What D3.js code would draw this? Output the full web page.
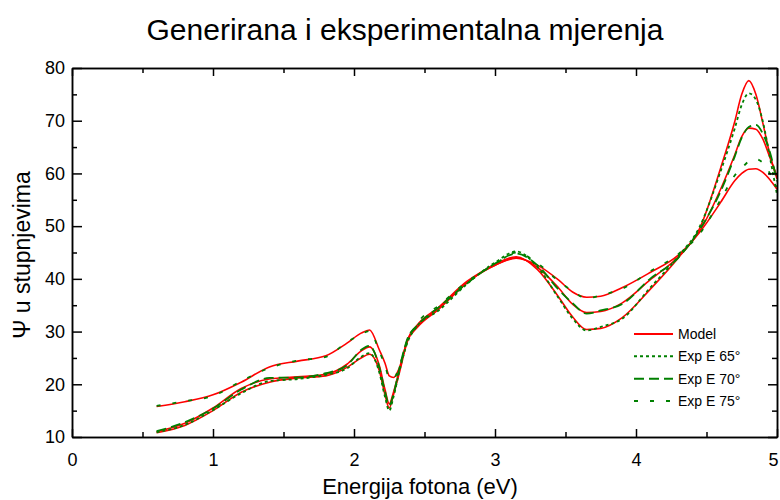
<!DOCTYPE html>
<html>
<head>
<meta charset="utf-8">
<script src="https://cdn.jsdelivr.net/npm/d3@7/dist/d3.min.js"></script>
<style>
    body { margin: 0; background: #fff; }
    svg { font-family: "Liberation Sans", Arial, sans-serif; }
    .axis path, .axis line { stroke: #000; stroke-width: 1.5; }
    .axis text { font-size: 18px; fill: #000; }
</style>
</head>
<body>
<svg id="chart" width="780" height="500"></svg>
<script>
// energy grid (eV) shared by all curves
var energy = [0.6, 0.8, 1.0, 1.2, 1.4, 1.6, 1.8, 1.95, 2.05, 2.11, 2.18, 2.22, 2.25, 2.28, 2.32, 2.38, 2.45,
    2.6, 2.8, 3.0, 3.15, 3.3, 3.45, 3.55, 3.65, 3.75, 3.9, 4.1, 4.3, 4.45, 4.6, 4.7, 4.75, 4.8, 4.85, 4.9, 4.95, 5.0];

// model curves (red)
var modelA = [15.8, 16.7, 18.0, 20.4, 23.3, 24.4, 25.4, 27.8, 29.7, 30.3, 26.5, 24.0, 21.6, 21.3, 23.0, 28.5, 31.3,
    34.6, 39.5, 42.6, 43.9, 42.6, 39.8, 37.5, 36.5, 36.7, 38.3, 41.2, 44.5, 48.8, 54.5, 58.6, 60.0, 60.8, 60.9, 60.2, 58.8, 57.0];
var modelB = [11.0, 12.6, 15.5, 19.2, 21.0, 21.4, 21.9, 23.8, 26.3, 27.1, 23.5, 19.0, 16.3, 18.5, 22.5, 28.5, 31.0,
    34.4, 39.3, 42.6, 44.0, 42.2, 38.3, 35.2, 33.6, 33.8, 35.4, 39.8, 44.2, 49.0, 57.0, 63.5, 67.0, 68.6, 68.4, 66.5, 63.0, 59.5];
var modelC = [10.8, 12.2, 15.0, 18.5, 20.4, 21.2, 21.6, 23.2, 25.0, 25.7, 22.5, 18.0, 15.5, 18.0, 22.0, 28.2, 30.8,
    34.2, 39.2, 42.8, 44.2, 41.8, 36.6, 32.8, 30.4, 30.6, 32.6, 38.0, 44.0, 49.5, 61.0, 69.8, 75.0, 77.6, 75.0, 69.5, 63.5, 59.0];

// measured curves (green)
var exp65 = [10.9, 12.3, 15.1, 18.3, 20.6, 21.0, 21.8, 23.0, 25.2, 25.9, 22.2, 17.6, 15.0, 17.6, 22.3, 28.0, 31.1,
    34.0, 39.0, 43.1, 45.2, 42.3, 36.4, 32.5, 30.2, 30.9, 32.4, 38.3, 44.3, 49.8, 60.4, 68.5, 73.0, 75.2, 74.0, 69.8, 63.0, 56.0];
var exp70 = [11.1, 12.8, 15.4, 19.0, 21.2, 21.3, 22.1, 23.6, 26.5, 27.3, 23.2, 18.6, 16.0, 18.1, 22.8, 28.7, 31.2,
    34.6, 39.1, 42.9, 44.8, 42.6, 38.0, 35.4, 33.4, 34.0, 35.2, 40.0, 44.0, 49.3, 56.6, 63.2, 66.8, 68.8, 69.2, 67.5, 64.0, 58.5];
var exp75 = [15.9, 16.8, 17.8, 20.6, 23.1, 24.5, 25.2, 28.0, 29.5, 30.1, 26.2, 23.6, 21.2, 21.0, 23.3, 28.2, 31.6,
    34.9, 39.4, 42.8, 45.0, 43.0, 39.6, 37.7, 36.3, 36.9, 38.1, 41.4, 44.7, 48.5, 55.0, 59.6, 61.0, 62.3, 62.7, 62.0, 60.0, 57.5];

var xTicks = [0, 1, 2, 3, 4, 5],
    xMinor = [0.5, 1.5, 2.5, 3.5, 4.5],
    yTicks = [10, 20, 30, 40, 50, 60, 70, 80],
    yMinor = [15, 25, 35, 45, 55, 65, 75];

var legendItems = ["Model", "Exp E 65°", "Exp E 70°", "Exp E 75°"];

var svg = d3.select("#chart");

var pLeft = 72, pRight = 777, pTop = 68, pBottom = 437;

var x = d3.scaleLinear().domain([0, 5]).range([pLeft, pRight]);
var y = d3.scaleLinear().domain([10, 80]).range([pBottom, pTop]);

var line = d3.line()
    .x(function(d) { return x(d[0]); })
    .y(function(d) { return y(d[1]); })
    .curve(d3.curveMonotoneX);

function pairs(vals) {
    return energy.map(function(e, i) { return [e, vals[i]]; });
}

// title
svg.append("text")
    .attr("x", 405)
    .attr("y", 40)
    .attr("text-anchor", "middle")
    .style("font-size", "30px")
    .text("Generirana i eksperimentalna mjerenja");

// model lines first, measurements drawn over them
var g = svg.append("g");

[modelA, modelB, modelC].forEach(function(m) {
    g.append("path")
        .attr("d", line(pairs(m)))
        .attr("fill", "none")
        .attr("stroke", "#ff0000")
        .attr("stroke-width", 1.6);
});

var expSeries = [
    {vals: exp65, dash: "3,3"},
    {vals: exp70, dash: "10,5"},
    {vals: exp75, dash: "4,12"}
];

expSeries.forEach(function(s) {
    g.append("path")
        .attr("d", line(pairs(s.vals)))
        .attr("fill", "none")
        .attr("stroke", "#008000")
        .attr("stroke-width", 1.8)
        .attr("stroke-dasharray", s.dash);
});

// axes, ticks all pointing inwards
var xAxis = svg.append("g")
    .attr("class", "axis")
    .attr("transform", "translate(0," + pBottom + ")")
    .call(d3.axisBottom(x).tickValues(xTicks).tickFormat(d3.format("d"))
        .tickSizeInner(-8).tickSizeOuter(0).tickPadding(16));
// keep the last label inside the picture
xAxis.selectAll(".tick text").filter(function(d) { return d == 5; }).attr("dx", "-4");

svg.append("g")
    .attr("class", "axis")
    .attr("transform", "translate(0," + pBottom + ")")
    .call(d3.axisBottom(x).tickValues(xMinor).tickSizeInner(-5).tickSizeOuter(0).tickFormat(""));

svg.append("g")
    .attr("class", "axis")
    .attr("transform", "translate(0," + pTop + ")")
    .call(d3.axisTop(x).tickValues(xTicks).tickSizeInner(-8).tickSizeOuter(0).tickFormat(""));
svg.append("g")
    .attr("class", "axis")
    .attr("transform", "translate(0," + pTop + ")")
    .call(d3.axisTop(x).tickValues(xMinor).tickSizeInner(-5).tickSizeOuter(0).tickFormat(""));

svg.append("g")
    .attr("class", "axis")
    .attr("transform", "translate(" + pLeft + ",0)")
    .call(d3.axisLeft(y).tickValues(yTicks).tickSizeInner(-10).tickSizeOuter(0).tickPadding(7));
svg.append("g")
    .attr("class", "axis")
    .attr("transform", "translate(" + pLeft + ",0)")
    .call(d3.axisLeft(y).tickValues(yMinor).tickSizeInner(-5).tickSizeOuter(0).tickFormat(""));

svg.append("g")
    .attr("class", "axis")
    .attr("transform", "translate(" + pRight + ",0)")
    .call(d3.axisRight(y).tickValues(yTicks).tickSizeInner(-9).tickSizeOuter(0).tickFormat(""));
svg.append("g")
    .attr("class", "axis")
    .attr("transform", "translate(" + pRight + ",0)")
    .call(d3.axisRight(y).tickValues(yMinor).tickSizeInner(-5).tickSizeOuter(0).tickFormat(""));

// axis titles
svg.append("text")
    .attr("x", 420)
    .attr("y", 494)
    .attr("text-anchor", "middle")
    .style("font-size", "22px")
    .text("Energija fotona (eV)");

svg.append("text")
    .attr("transform", "translate(30,255) rotate(-90)")
    .attr("text-anchor", "middle")
    .style("font-size", "23px")
    .text("Ψ u stupnjevima");

// legend
var legendStyles = [
    {color: "#ff0000", dash: null, w: 2},
    {color: "#008000", dash: "3,3", w: 2},
    {color: "#008000", dash: "10,5", w: 2},
    {color: "#008000", dash: "4,12", w: 2}
];
var legendY = d3.scalePoint().domain(legendItems).range([334, 401]);

var leg = svg.append("g").selectAll("g")
    .data(legendItems)
    .enter().append("g")
    .attr("transform", function(d) { return "translate(634," + legendY(d) + ")"; });

leg.append("line")
    .attr("x1", 0).attr("x2", 39)
    .attr("stroke", function(d, i) { return legendStyles[i].color; })
    .attr("stroke-width", function(d, i) { return legendStyles[i].w; })
    .attr("stroke-dasharray", function(d, i) { return legendStyles[i].dash; });

leg.append("text")
    .attr("x", 44)
    .attr("y", 5)
    .style("font-size", "14px")
    .text(function(d) { return d; });
</script>
</body>
</html>
